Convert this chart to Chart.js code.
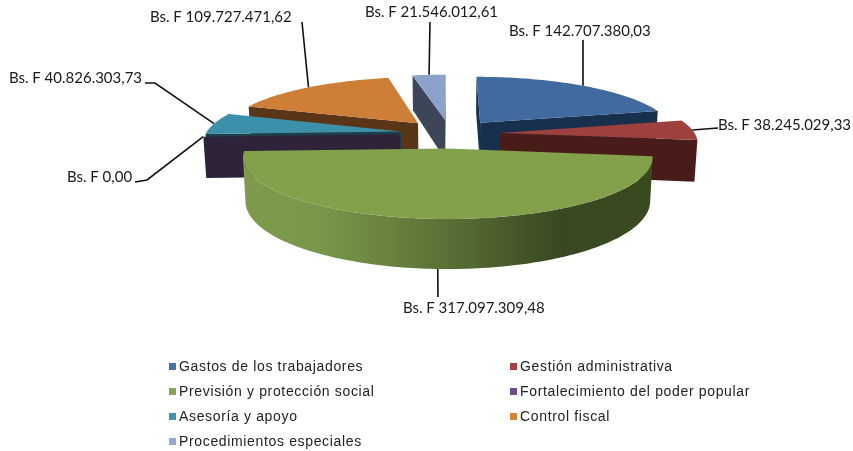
<!DOCTYPE html>
<html><head><meta charset="utf-8">
<style>html,body{margin:0;padding:0;background:#fff}#wrap{width:853px;height:451px}</style>
<script src="https://cdn.jsdelivr.net/npm/chart.js@4/dist/chart.umd.min.js"></script>
</head><body><div id="wrap"><canvas id="c" width="853" height="451"></canvas></div>
<script>
const categories = ["Gastos de los trabajadores","Gestión administrativa","Previsión y protección social","Fortalecimiento del poder popular","Asesoría y apoyo","Control fiscal","Procedimientos especiales"];
const values = [142707380.03,38245029.33,317097309.48,0,40826303.73,109727471.62,21546012.61];
const valueLabels = ["Bs. F 142.707.380,03","Bs. F 38.245.029,33","Bs. F 317.097.309,48","Bs. F 0,00","Bs. F 40.826.303,73","Bs. F 109.727.471,62","Bs. F 21.546.012,61"];
const topColors = ["#416aa0","#9e413e","#83a04a","#6a4f8a","#3d90a9","#cd7f37","#8ba2ca"];
const sideColors = ["#17304e","#4a1c19","#3a4a1f","#2e2339","#1c3f4d","#5a3518","#3c4658"];
const legendColors = ["#4473a8","#a5423f","#87a54c","#6a4f8a","#3f95ad","#d58338","#93a9d0"];
// label anchors: text left/baseline, optional elbow
const labelX = [509,718,403,67,9,150,365];
const labelY = [36,130,313,182,83,22,17];
const elbowX = [583,718,438,135,145,302,430];
const elbowY = [40,128,297,182,83,22,22];
const elbow2X = [null,null,null,147,155,null,null];
const elbow2Y = [null,null,null,180,83,null,null];
const legendColX = [169,510];
const legendRowY = [366,391,416,441];

const RADIUS = 195, EXPLODE = 50, DEPTH = 41, PERSP = 1350, TILT = 0.285, CY = 133.7, TAPER = 0.012;

function project(cx, X, Y, z) {
  const f = PERSP / (PERSP + Y);
  return {x: cx + X * f * (1 - TAPER * z / DEPTH), y: CY - TILT * Y * f + z * f};
}
function outline(el) {
  const mid = (el.startAngle + el.endAngle) / 2;
  const ox = Math.cos(mid) * EXPLODE, oy = -Math.sin(mid) * EXPLODE;
  const pts = [[ox, oy]];
  const n = Math.max(1, Math.ceil((el.endAngle - el.startAngle) / 0.02));
  for (let i = 0; i <= n; i++) {
    const a = el.startAngle + (el.endAngle - el.startAngle) * i / n;
    pts.push([ox + Math.cos(a) * el.outerRadius, oy - Math.sin(a) * el.outerRadius]);
  }
  return pts;
}
function poly(ctx, pts) {
  ctx.beginPath();
  pts.forEach((p, i) => i ? ctx.lineTo(p.x, p.y) : ctx.moveTo(p.x, p.y));
  ctx.closePath();
}
function area(q) {
  let s = 0;
  for (let i = 0; i < q.length; i++) { const a = q[i], b = q[(i + 1) % q.length]; s += a.x * b.y - b.x * a.y; }
  return s / 2;
}
const pie3d = {
  id: 'pie3d',
  beforeDatasetDraw(chart, args) {
    const ctx = chart.ctx, arcs = args.meta.data;
    const order = arcs.map((el, i) => i).sort((a, b) => {
      const ma = (arcs[a].startAngle + arcs[a].endAngle) / 2, mb = (arcs[b].startAngle + arcs[b].endAngle) / 2;
      return Math.sin(ma) - Math.sin(mb);
    });
    const greenGrad = ctx.createLinearGradient(243, 0, 653, 0);
    greenGrad.addColorStop(0, '#7f9a4d');
    greenGrad.addColorStop(0.2, '#78964a');
    greenGrad.addColorStop(0.5, '#5a6f35');
    greenGrad.addColorStop(0.78, '#384820');
    greenGrad.addColorStop(1, '#3a4a20');
    order.forEach(i => {
      const el = arcs[i], cx = el.x, pl = outline(el), last = pl.length - 1;
      const top = pl.map(p => project(cx, p[0], p[1], 0));
      const bot = pl.map(p => project(cx, p[0], p[1], DEPTH));
      const fillQ = (q, col) => { ctx.fillStyle = col; poly(ctx, q); ctx.fill(); };
      // radial faces: apex to first rim point, last rim point to apex
      [[0, 1], [last, 0]].forEach(([a, b]) => {
        const q = [top[a], top[b], bot[b], bot[a]];
        if (area(q) < 0) fillQ(q, sideColors[i]);
      });
      // curved outer wall: one polygon per consecutive front-facing run
      let run = [];
      const flush = () => {
        if (run.length > 1) {
          const q = run.map(k => top[k]).concat(run.slice().reverse().map(k => bot[k]));
          fillQ(q, i === 2 ? greenGrad : sideColors[i]);
        }
        run = [];
      };
      for (let k = 1; k < last; k++) {
        const q = [top[k], top[k + 1], bot[k + 1], bot[k]];
        if (area(q) < 0) { if (!run.length) run.push(k); run.push(k + 1); } else flush();
      }
      flush();
      if (el.endAngle > el.startAngle) fillQ(top, topColors[i]);
    });
    return false;
  },
  afterDraw(chart) {
    const ctx = chart.ctx, arcs = chart.getDatasetMeta(0).data;
    ctx.save();
    ctx.strokeStyle = '#111'; ctx.lineWidth = 1.6;
    arcs.forEach((el, i) => {
      const mid = (el.startAngle + el.endAngle) / 2;
      const r = EXPLODE + el.outerRadius;
      const down = Math.sin(mid) > 0.9;
      const p = project(el.x, Math.cos(mid) * r, -Math.sin(mid) * r, down ? DEPTH : 0);
      ctx.beginPath();
      ctx.moveTo(p.x, p.y);
      if (elbow2X[i] !== null) ctx.lineTo(elbow2X[i], elbow2Y[i]);
      ctx.lineTo(elbowX[i], elbowY[i]);
      ctx.stroke();
    });
    ctx.fillStyle = '#1a1a1a';
    ctx.font = '15px Lato';
    ctx.textBaseline = 'alphabetic'; ctx.textAlign = 'left';
    valueLabels.forEach((t, i) => ctx.fillText(t, labelX[i], labelY[i]));
    ctx.font = '14px "Liberation Sans"';
    ctx.letterSpacing = '0.65px';
    categories.forEach((t, i) => {
      const col = i % 2, row = Math.floor(i / 2);
      const x = legendColX[col], y = legendRowY[row];
      ctx.fillStyle = legendColors[i];
      ctx.fillRect(x, y - 3, 7, 7);
      ctx.fillStyle = '#222';
      ctx.fillText(t, x + 10, y + 5);
    });
    ctx.restore();
  }
};
new Chart(document.getElementById('c'), {
  type: 'pie',
  data: {labels: categories, datasets: [{data: values, backgroundColor: topColors, borderWidth: 0, offset: EXPLODE, hoverOffset: 0}]},
  options: {
    responsive: false, animation: false, radius: RADIUS,
    layout: {padding: {left: 47, top: 0, right: 0, bottom: 186}},
    events: [],
    plugins: {legend: {display: false}, tooltip: {enabled: false}, title: {display: false}}
  },
  plugins: [pie3d]
});
</script></body></html>
